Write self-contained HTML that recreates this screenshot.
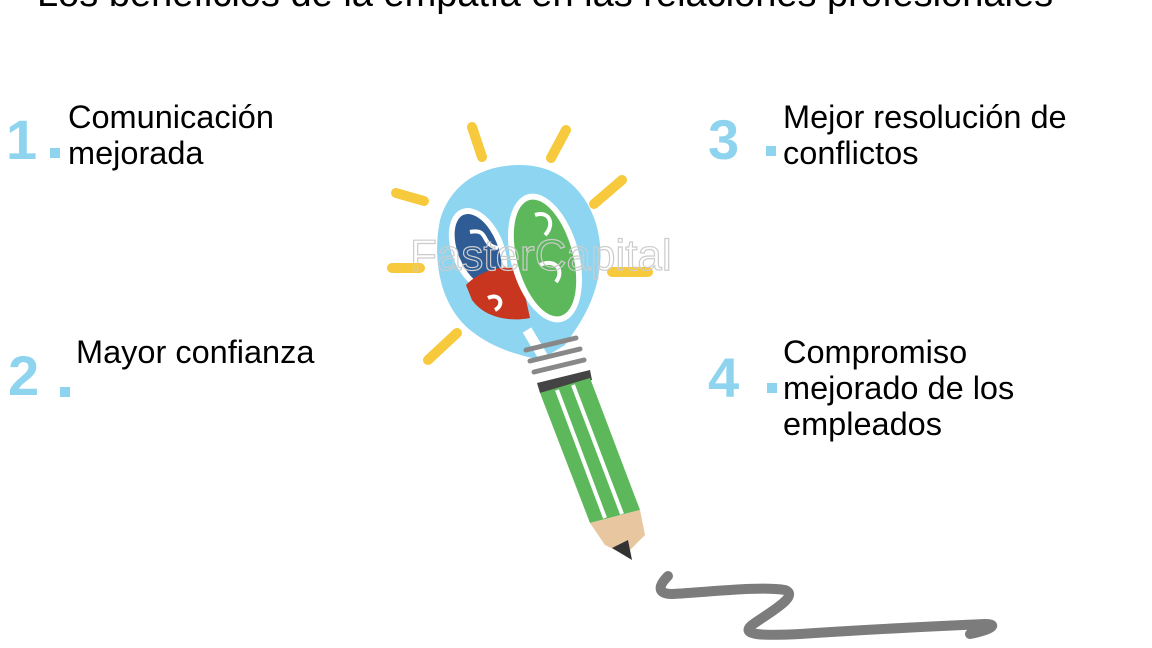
<!DOCTYPE html>
<html><head><meta charset="utf-8"><style>
html,body{margin:0;padding:0;background:#fff}
body{width:1152px;height:648px;overflow:hidden;position:relative;font-family:"Liberation Sans",sans-serif}
.t{position:absolute;font-size:32.5px;line-height:36px;color:#000;white-space:nowrap}
.n{position:absolute;font-size:56px;font-weight:bold;color:#8fd4ef;line-height:1}
.d{position:absolute;width:10px;height:10px;background:#8fd4ef}
</style></head><body>
<div style="position:absolute;left:37px;top:-27px;font-size:38px;line-height:42px;white-space:nowrap">Los beneficios de la empatía en las relaciones profesionales</div>

<div class="n" style="left:6px;top:112px">1</div><div class="d" style="left:50px;top:148px"></div>
<div class="t" style="left:68px;top:99px">Comunicación<br>mejorada</div>

<div class="n" style="left:8px;top:348px">2</div><div class="d" style="left:60px;top:387px"></div>
<div class="t" style="left:76px;top:334px">Mayor confianza</div>

<div class="n" style="left:708px;top:112px">3</div><div class="d" style="left:766px;top:146px"></div>
<div class="t" style="left:783px;top:99px">Mejor resolución de<br>conflictos</div>

<div class="n" style="left:708px;top:350px">4</div><div class="d" style="left:767px;top:383px"></div>
<div class="t" style="left:783px;top:334px">Compromiso<br>mejorado de los<br>empleados</div>

<svg width="1152" height="648" style="position:absolute;left:0;top:0">
<g stroke="#f7c93c" stroke-width="10" stroke-linecap="round" fill="none">
<line x1="472" y1="127" x2="482" y2="157"/>
<line x1="566" y1="130" x2="551" y2="158"/>
<line x1="396" y1="193" x2="424" y2="201"/>
<line x1="622" y1="180" x2="594" y2="204"/>
<line x1="392" y1="268" x2="420" y2="268"/>
<line x1="612" y1="272" x2="648" y2="272"/>
<line x1="457" y1="333" x2="428" y2="360"/>
</g>
<path d="M520,165 C575,165 605,215 600,265 C596,305 575,330 565,345 L540,360 C520,355 495,350 470,330 C440,305 432,260 440,220 C450,185 480,165 520,165Z" fill="#8dd5f0"/>
<path d="M527,330 L560,385" stroke="#fff" stroke-width="10"/>
<ellipse cx="478" cy="250" rx="26" ry="44" transform="rotate(-22 478 250)" fill="#fff"/>
<ellipse cx="478" cy="250" rx="20" ry="38" transform="rotate(-22 478 250)" fill="#2f5c94"/>
<path d="M466,285 C480,270 510,262 520,272 L530,318 C510,322 485,318 472,300Z" fill="#c8361f"/>
<ellipse cx="545" cy="258" rx="34" ry="66" transform="rotate(-15 545 258)" fill="#fff"/>
<ellipse cx="545" cy="258" rx="28" ry="60" transform="rotate(-15 545 258)" fill="#5cb85a"/>
<g stroke="#fff" stroke-width="4" fill="none">
<path d="M470,232 C490,228 480,245 498,248"/><path d="M488,298 C500,292 505,305 495,310"/>
<path d="M535,215 C550,210 555,225 545,235"/><path d="M540,265 C555,258 565,270 556,282"/>
</g>
<g stroke="#888" stroke-width="5" stroke-linecap="round">
<line x1="526" y1="350" x2="576" y2="338"/>
<line x1="530" y1="361" x2="580" y2="349"/>
<line x1="534" y1="372" x2="584" y2="360"/>
</g>
<path d="M537,383 L590,370 L592,380 L540,393Z" fill="#444"/>
<path d="M540,393 L590,378 L640,510 L590,523Z" fill="#5cb85a"/>
<g stroke="#fff" stroke-width="4"><line x1="557" y1="390" x2="605" y2="518"/><line x1="573" y1="385" x2="622" y2="514"/></g>
<path d="M590,523 L640,510 L645,535 L625,555 L605,545Z" fill="#e8c6a0"/>
<path d="M612,548 L628,540 L632,560 Z" fill="#333"/>
<path d="M668,576 C660,584 655,594 672,594 C710,592 760,586 785,590 C800,596 770,612 752,625 C740,635 760,636 800,634 C860,630 940,626 985,624 C1000,624 990,630 970,634" stroke="#7c7c7c" stroke-width="10" fill="none" stroke-linejoin="round" stroke-linecap="round"/>
<text x="410" y="270" font-family="Liberation Sans,sans-serif" font-size="44" fill="none" stroke="#ccc" stroke-width="1.2">FasterCapital</text>
</svg>
</body></html>
